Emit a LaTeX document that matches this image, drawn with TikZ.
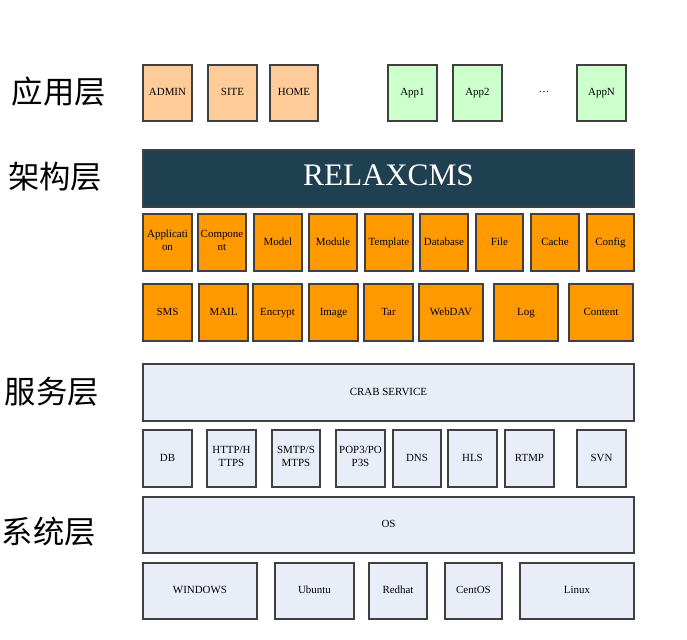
\documentclass[tikz,border=0pt]{standalone}
\usepackage{fontspec}
\setmainfont{Liberation Serif}
\newfontfamily\cjk{Noto Sans CJK SC}
\definecolor{peach}{HTML}{FFCC99}
\definecolor{mint}{HTML}{CCFFCC}
\definecolor{teal}{HTML}{1F4050}
\definecolor{orng}{HTML}{FF9900}
\definecolor{pale}{HTML}{E8EDF7}
\definecolor{edge}{HTML}{404040}
\newcommand\bx[7]{\node[box,#6,minimum width={(#4-#2)*0.75pt},minimum height={(#5-#3)*0.75pt}] (#1) at ({(#2+#4)/2},{(#3+#5)/2}) {#7};}
\tikzset{
  box/.style={draw=edge,line width=0.8pt,inner sep=0pt,align=center,font=\fontsize{8.2}{10}\selectfont,
    execute at begin node=\strut, execute at end node=\strut},
  pe/.style={fill=peach},
  mi/.style={fill=mint},
  te/.style={fill=teal,text=white,font=\fontsize{23.5}{26}\selectfont},
  or/.style={fill=orng},
  pa/.style={fill=pale},
  layer/.style={font=\cjk\fontsize{23.5}{26}\selectfont,inner sep=0pt}
}
\begin{document}
\begin{tikzpicture}[x=0.75pt,y=-0.75pt]
\useasboundingbox (0,0) rectangle (687,640);
% layer labels
\node[layer] (l1) at (59,92) {应用层};
\node[layer] (l2) at (55,177) {架构层};
\node[layer] (l3) at (52,392) {服务层};
\node[layer] (l4) at (49,532) {系统层};
% row 1
\bx{admin}{143}{65}{192}{121}{pe}{ADMIN}
\bx{site}{208}{65}{257}{121}{pe}{SITE}
\bx{home}{270}{65}{318}{121}{pe}{HOME}
\bx{app1}{388}{65}{437}{121}{mi}{App1}
\bx{app2}{453}{65}{502}{121}{mi}{App2}
\node[font=\fontsize{8.2}{10}\selectfont] (dots) at (544,92) {\dots};
\bx{appn}{577}{65}{626}{121}{mi}{AppN}
% RELAXCMS
\bx{relax}{143}{150}{634}{207}{te}{RELAXCMS}
% row 3
\bx{appl}{143}{214}{192}{271}{or}{Applicati\\on}
\bx{comp}{198}{214}{246}{271}{or}{Compone\\nt}
\bx{model}{254}{214}{302}{271}{or}{Model}
\bx{module}{309}{214}{357}{271}{or}{Module}
\bx{tmpl}{365}{214}{413}{271}{or}{Template}
\bx{dbase}{420}{214}{468}{271}{or}{Database}
\bx{file}{476}{214}{523}{271}{or}{File}
\bx{cache}{531}{214}{579}{271}{or}{Cache}
\bx{config}{587}{214}{634}{271}{or}{Config}
% row 4
\bx{sms}{143}{284}{192}{341}{or}{SMS}
\bx{mail}{199}{284}{248}{341}{or}{MAIL}
\bx{encr}{253}{284}{302}{341}{or}{Encrypt}
\bx{image}{309}{284}{358}{341}{or}{Image}
\bx{tar}{364}{284}{413}{341}{or}{Tar}
\bx{webdav}{419}{284}{483}{341}{or}{WebDAV}
\bx{log}{494}{284}{558}{341}{or}{Log}
\bx{content}{569}{284}{633}{341}{or}{Content}
% service
\bx{crab}{143}{364}{634}{421}{pa}{CRAB SERVICE}
\bx{db}{143}{430}{192}{487}{pa}{DB}
\bx{http}{207}{430}{256}{487}{pa}{HTTP/H\\TTPS}
\bx{smtp}{272}{430}{320}{487}{pa}{SMTP/S\\MTPS}
\bx{pop}{336}{430}{385}{487}{pa}{POP3/PO\\P3S}
\bx{dns}{393}{430}{441}{487}{pa}{DNS}
\bx{hls}{448}{430}{497}{487}{pa}{HLS}
\bx{rtmp}{505}{430}{554}{487}{pa}{RTMP}
\bx{svn}{577}{430}{626}{487}{pa}{SVN}
% system
\bx{os}{143}{497}{634}{553}{pa}{OS}
\bx{win}{143}{563}{257}{619}{pa}{WINDOWS}
\bx{ubuntu}{275}{563}{354}{619}{pa}{Ubuntu}
\bx{redhat}{369}{563}{427}{619}{pa}{Redhat}
\bx{centos}{445}{563}{502}{619}{pa}{CentOS}
\bx{linux}{520}{563}{634}{619}{pa}{Linux}
\end{tikzpicture}
\end{document}
